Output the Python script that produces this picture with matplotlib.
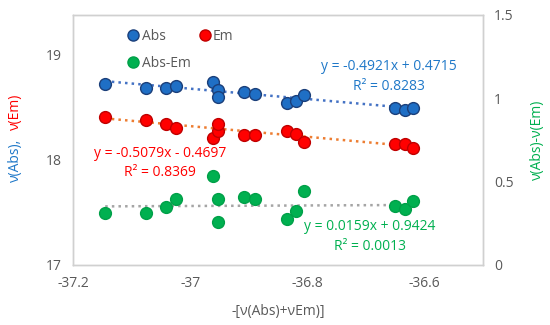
import numpy as np
import matplotlib
matplotlib.use("Agg")
import matplotlib.pyplot as plt
from matplotlib.lines import Line2D

plt.rcParams['font.family'] = ['Open Sans', 'DejaVu Sans']

# x = -[v(Abs)+v(Em)]
x = [-37.145, -37.076, -37.042, -37.024, -36.961, -36.953, -36.953, -36.908,
     -36.889, -36.834, -36.820, -36.805, -36.650, -36.633, -36.620]
absorb = [18.721, 18.686, 18.686, 18.702, 18.740, 18.667, 18.603, 18.650,
          18.631, 18.546, 18.563, 18.619, 18.492, 18.476, 18.492]
emis = [18.410, 18.378, 18.340, 18.305, 18.207, 18.279, 18.346, 18.241,
        18.241, 18.279, 18.248, 18.174, 18.152, 18.152, 18.111]
diff = [0.310, 0.310, 0.348, 0.398, 0.532, 0.398, 0.256, 0.410,
        0.394, 0.274, 0.322, 0.444, 0.356, 0.334, 0.384]

# trendline coefficients (slope, intercept) as printed on the chart
fit_abs = (-0.4921, 0.4715)
fit_em = (-0.5079, -0.4697)
fit_diff = (0.0159, 0.9424)

W, H = 550, 325
fig = plt.figure(figsize=(5.5, 3.25), dpi=100)
ax = fig.add_axes([73 / W, 60 / H, 410 / W, 250 / H])
ax2 = ax.twinx()

xs = np.linspace(min(x), max(x), 50)
ax.plot(xs, fit_abs[0] * xs + fit_abs[1], ':', color='#4472C4', lw=1.8, zorder=2)
ax.plot(xs, fit_em[0] * xs + fit_em[1], ':', color='#ED7D31', lw=1.8, zorder=2)
ax2.plot(xs, fit_diff[0] * xs + fit_diff[1], ':', color='#A5A5A5', lw=1.8, zorder=2)

ms = 8.5
ax.plot(x, absorb, 'o', ms=ms, mfc='#1F6FC5', mec='#1B3F7A', mew=1.0, zorder=3)
ax.plot(x, emis, 'o', ms=ms, mfc='#FF0000', mec='#C00000', mew=1.0, zorder=3)
ax2.plot(x, diff, 'o', ms=ms, mfc='#00B050', mec='#00A048', mew=1.0, zorder=3)

ax.set_xlim(-37.2, -36.5)
ax.set_ylim(17, 17 + 250 / 105)
ax2.set_ylim(0, 1.5)
ax.set_xticks([-37.2, -37, -36.8, -36.6])
ax.set_xticklabels(['-37.2', '-37', '-36.8', '-36.6'])
ax.set_yticks([17, 18, 19])
ax2.set_yticks([0, 0.5, 1, 1.5])
ax2.set_yticklabels(['0', '0.5', '1', '1.5'])

for a in (ax, ax2):
    a.tick_params(length=0, labelsize=10, colors='#595959', pad=8)
    for s in a.spines.values():
        s.set_color('#D0D0D0')
        s.set_linewidth(1.0)

handles = [
    Line2D([], [], ls='none', marker='o', ms=8, mfc='#1F6FC5', mec='#1B3F7A', label='Abs'),
    Line2D([], [], ls='none', marker='o', ms=8, mfc='#00B050', mec='#00A048', label='Abs-Em'),
    Line2D([], [], ls='none', marker='o', ms=8, mfc='#FF0000', mec='#C00000', label='Em'),
]
leg = ax2.legend(handles=handles, ncol=2, frameon=False, fontsize=10,
                 loc='upper left', bbox_to_anchor=(0.1, 0.995),
                 handletextpad=0.1, columnspacing=0.5, labelspacing=0.85,
                 handlelength=1.0)
for t in leg.get_texts():
    t.set_color('#595959')


def fx(px):
    return px / W


def fy(py):
    return 1 - py / H


fs = 10
fig.text(fx(389), fy(66), 'y = -0.4921x + 0.4715', color='#1F78C8', fontsize=fs, ha='center', va='center')
fig.text(fx(389), fy(86), 'R² = 0.8283', color='#1F78C8', fontsize=fs, ha='center', va='center')
fig.text(fx(160), fy(153), 'y = -0.5079x - 0.4697', color='#FF0000', fontsize=fs, ha='center', va='center')
fig.text(fx(160), fy(173), 'R² = 0.8369', color='#FF0000', fontsize=fs, ha='center', va='center')
fig.text(fx(370), fy(226), 'y = 0.0159x + 0.9424', color='#00B050', fontsize=fs, ha='center', va='center')
fig.text(fx(370), fy(247), 'R² = 0.0013', color='#00B050', fontsize=fs, ha='center', va='center')

# axis titles
fig.text(fx(278), fy(312), '-[ν(Abs)+νEm)]', color='#595959', fontsize=fs, ha='center', va='center')
fig.text(fx(15), fy(160), 'ν(Abs),', color='#1F78C8', fontsize=fs, rotation=90, ha='center', va='center')
fig.text(fx(15), fy(112), 'ν(Em)', color='#FF0000', fontsize=fs, rotation=90, ha='center', va='center')
fig.text(fx(537), fy(140), 'ν(Abs)-ν(Em)', color='#00B050', fontsize=fs, rotation=90, ha='center', va='center')

fig.savefig('out.png', dpi=100)
